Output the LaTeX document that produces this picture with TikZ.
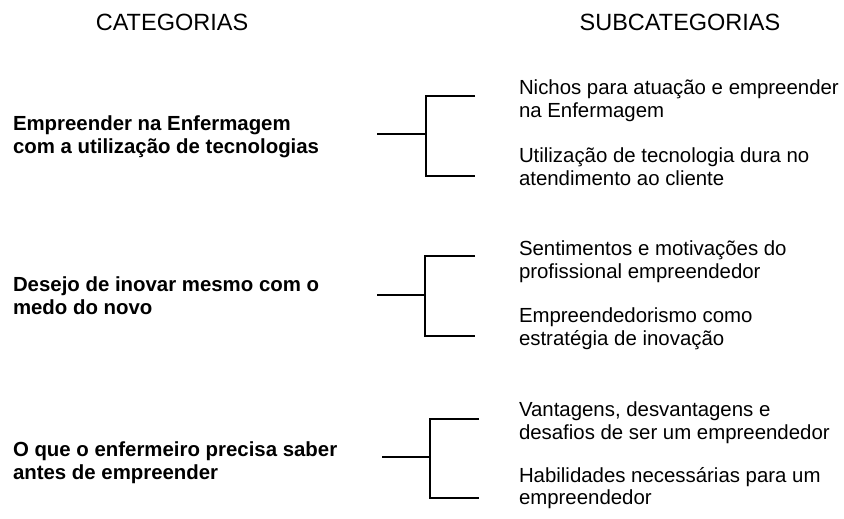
\documentclass[tikz,border=0pt]{standalone}
\usepackage{fontspec}
\setmainfont{Liberation Sans}

\begin{document}
\begin{tikzpicture}[x=1pt,y=-1pt,line width=2pt]
\tikzstyle{every node} = [inner sep=0pt, anchor=base west, align=left, font=\fontsize{20.4}{22.6}\selectfont]
\tikzstyle{cat} = [font=\fontsize{20.4}{22.6}\selectfont\bfseries]
\tikzstyle{title} = [anchor=base, font=\fontsize{23.5}{26}\selectfont]
\useasboundingbox (0,0) rectangle (844,519);

\node[title] (cattitle) at (172,31) {CATEGORIAS};
\node[title] (subtitle) at (680,31) {SUBCATEGORIAS};

% categorias (base = ultima linha)
\node[cat] (tech) at (12,153.3) {Empreender na Enfermagem\\com a utilização de tecnologias};
\node[cat] (wish) at (12,314.3) {Desejo de inovar mesmo com o\\medo do novo};
\node[cat] (know) at (12,479.3) {O que o enfermeiro precisa saber\\antes de empreender};

% subcategorias
\node (niches) at (518,117.6) {Nichos para atuação e empreender\\na Enfermagem};
\node (hard) at (518,185) {Utilização de tecnologia dura no\\atendimento ao cliente};
\node (feel) at (518,278.2) {Sentimentos e motivações do\\profissional empreendedor};
\node (strat) at (518,345.2) {Empreendedorismo como\\estratégia de inovação};
\node (pros) at (518,439.3) {Vantagens, desvantagens e\\desafios de ser um empreendedor};
\node (skills) at (518,504.8) {Habilidades necessárias para um\\empreendedor};

% chaves
\coordinate (tech-stub) at (377,134);
\coordinate (tech-fork) at (426,134);
\coordinate (niches-arm) at (475,96);
\coordinate (hard-arm) at (475,176);
\coordinate (wish-stub) at (377,295);
\coordinate (wish-fork) at (425,295);
\coordinate (feel-arm) at (475,256);
\coordinate (strat-arm) at (475,336);
\coordinate (know-stub) at (382,457);
\coordinate (know-fork) at (430,457);
\coordinate (pros-arm) at (479,419);
\coordinate (skills-arm) at (479,498);

\draw (tech-stub) -- (tech-fork);
\draw (niches-arm) -| (tech-fork) |- (hard-arm);
\draw (wish-stub) -- (wish-fork);
\draw (feel-arm) -| (wish-fork) |- (strat-arm);
\draw (know-stub) -- (know-fork);
\draw (pros-arm) -| (know-fork) |- (skills-arm);
\end{tikzpicture}
\end{document}
